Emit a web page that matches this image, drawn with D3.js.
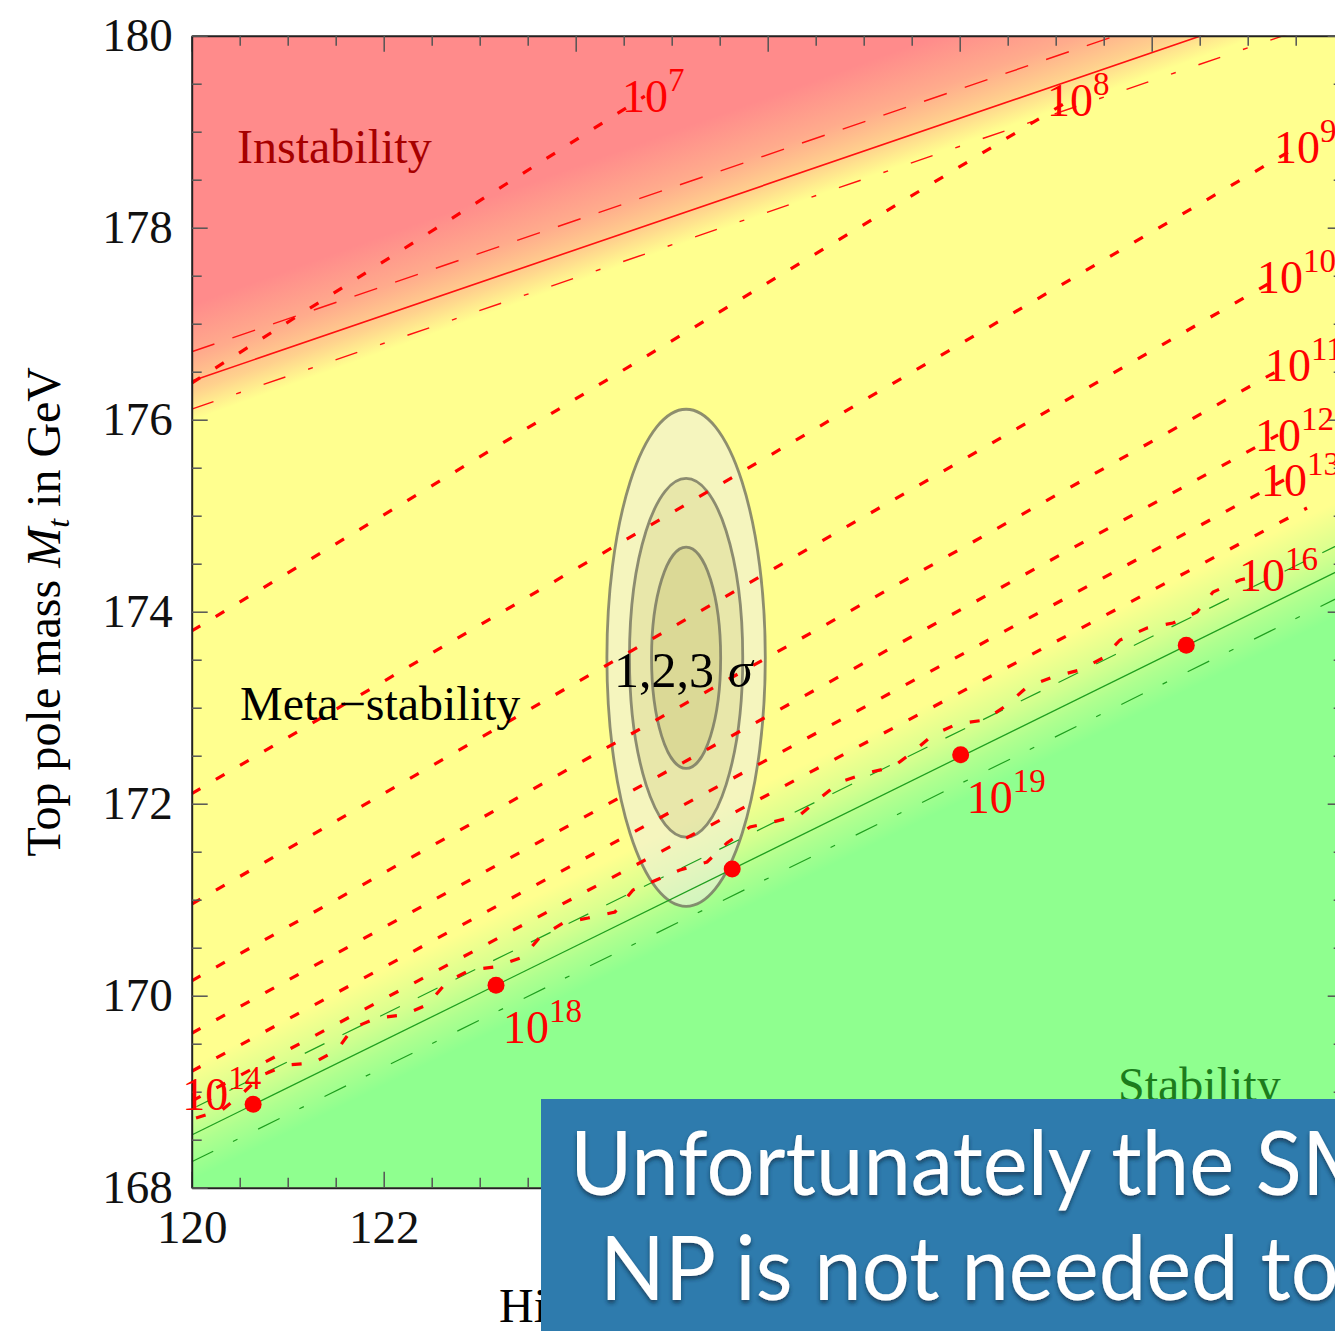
<!DOCTYPE html>
<html>
<head>
<meta charset="utf-8">
<script src="https://cdn.jsdelivr.net/npm/d3@7"></script>
<style>
  html, body { margin: 0; padding: 0; background: #fff; overflow: hidden; }
  svg { display: block; }
</style>
</head>
<body>
<svg id="chart" width="1335" height="1331"></svg>
<script>
// ---------------- data ----------------
const higgsRange = [120, 132];          // Higgs pole mass Mh (GeV)
const topRange = [168, 180];            // Top pole mass Mt (GeV)
const xMajorTicks = [120, 122, 124, 126, 128, 130, 132];
const yMajorTicks = [168, 170, 172, 174, 176, 178, 180];
const xTickLabels = [120, 122];         // the others sit under the caption panel

// instability boundary (alpha_s central, upper, lower), [Mh, Mt]
const instabilityCentral = [[120, 176.403], [132, 180.507]];
const instabilityUpper   = [[120, 176.708], [132, 180.812]];
const instabilityLower   = [[120, 176.111], [132, 180.215]];
// stability boundary
const stabilityCentral = [[120, 168.549], [132, 174.453]];
const stabilityUpper   = [[120, 168.820], [132, 174.724]];
const stabilityLower   = [[120, 168.270], [132, 174.174]];

// edges of the theory-error shading bands
const instabilityBandTop    = [[120, 177.200], [132, 181.520]];
const instabilityBandBottom = [[120, 175.990], [132, 180.310]];
const stabilityBandTop      = [[120, 169.278], [132, 175.182]];
const stabilityBandBottom   = [[120, 168.080], [132, 173.984]];

// instability scale contours Lambda = 10^n GeV
const contourExponents = [7, 8, 9, 10, 11, 12, 13, 14, 16];
const contour7  = [[120, 176.382], [124.72, 179.37]];
const contour8  = [[120, 173.799], [129.149, 179.330]];
const contour9  = [[120, 172.105], [131.514, 178.841]];
const contour10 = [[120, 170.953], [131.336, 177.486]];
const contour11 = [[120, 170.155], [131.420, 176.570]];
const contour12 = [[120, 169.609], [131.316, 175.841]];
const contour13 = [[120, 169.213], [131.378, 175.372]];
const contour14 = [[120, 168.902], [131.618, 175.080]];
const contour16 = [
  [120.045, 168.726], [120.316, 168.809], [120.534, 168.986], [120.732, 169.174],
  [120.993, 169.278], [121.264, 169.299], [121.514, 169.434], [121.680, 169.664],
  [121.930, 169.768], [122.201, 169.799], [122.451, 169.903], [122.659, 170.143],
  [122.899, 170.268], [123.159, 170.299], [123.451, 170.403], [123.628, 170.611],
  [123.868, 170.757], [124.128, 170.809], [124.409, 170.872], [124.597, 171.101],
  [125.086, 171.309], [125.368, 171.393], [125.576, 171.591], [125.816, 171.757],
  [126.055, 171.809], [126.336, 171.882], [126.545, 172.059], [126.753, 172.226],
  [127.034, 172.320], [127.305, 172.382], [127.513, 172.539], [127.722, 172.716],
  [127.972, 172.830], [128.264, 172.872], [128.493, 173.028], [128.701, 173.216],
  [128.972, 173.320], [129.253, 173.393], [129.493, 173.518], [129.670, 173.705],
  [129.951, 173.830], [130.222, 173.882], [130.472, 173.997], [130.639, 174.205],
  [130.920, 174.330], [131.149, 174.382]
];
const contours = [contour7, contour8, contour9, contour10, contour11, contour12, contour13, contour14, contour16];
// where each contour carries its 10^n tag (centre of the "10")
const contourLabelAt = [
  [124.722, 179.372], [129.149, 179.330], [131.514, 178.841], [131.336, 177.486],
  [131.420, 176.570], [131.316, 175.841], [131.378, 175.372], null, [131.149, 174.382]
];

// points on the stability line with the scale where it is reached
const stabilityPoints = [[120.64, 168.87], [123.17, 170.11], [125.63, 171.32], [128.01, 172.51], [130.36, 173.65]];
const stabilityPointExponents = [14, 18, null, 19, null];

// experimental 1,2,3 sigma region
const measuredMh = 125.15;
const measuredMt = 173.52;
const sigmaMhAxes = [0.36, 0.59, 0.825];
const sigmaMtAxes = [1.153, 1.868, 2.589];

// ---------------- layout ----------------
const svg = d3.select('#chart');
const plotLeft = 191.7, plotTop = 35.7, plotSize = 1152;
const x = d3.scaleLinear().domain(higgsRange).range([plotLeft, plotLeft + plotSize]);
const y = d3.scaleLinear().domain(topRange).range([plotTop + plotSize, plotTop]);
const serif = "'Liberation Serif', 'Times New Roman', serif";

const defs = svg.append('defs');
defs.append('clipPath').attr('id', 'plotClip').append('rect')
  .attr('x', x(120)).attr('y', y(180))
  .attr('width', x(132) - x(120)).attr('height', y(168) - y(180));

// gradient running across a band bounded by two parallel lines
function bandGradient(id, upper, lower, color, opacityStops) {
  const p0 = [x(upper[0][0]), y(upper[0][1])];
  const p1 = [x(upper[1][0]), y(upper[1][1])];
  const dx = p1[0] - p0[0], dy = p1[1] - p0[1];
  const len = Math.hypot(dx, dy);
  let nx = -dy / len, ny = dx / len;
  if (ny < 0) { nx = -nx; ny = -ny; }
  const q = [x(lower[0][0]), y(lower[0][1])];
  const dist = (q[0] - p0[0]) * nx + (q[1] - p0[1]) * ny;
  const g = defs.append('linearGradient').attr('id', id)
    .attr('gradientUnits', 'userSpaceOnUse')
    .attr('x1', p0[0]).attr('y1', p0[1])
    .attr('x2', p0[0] + nx * dist).attr('y2', p0[1] + ny * dist);
  opacityStops.forEach(([o, a]) =>
    g.append('stop').attr('offset', o).attr('stop-color', color).attr('stop-opacity', a));
}
const colRed = '#ff8b8b', colYellow = '#ffff8f', colGreen = '#8fff8f';
bandGradient('redBand', instabilityBandTop, instabilityBandBottom, colRed,
  [[0, 1], [0.45, 0.72], [0.75, 0.4], [1, 0]]);
bandGradient('greenBand', stabilityBandTop, stabilityBandBottom, colGreen,
  [[0, 0], [0.4, 0.35], [0.7, 0.72], [1, 1]]);

const shadow = defs.append('filter').attr('id', 'textShadow')
  .attr('x', '-5%').attr('y', '-20%').attr('width', '110%').attr('height', '150%');
shadow.append('feDropShadow').attr('dx', 0).attr('dy', 3).attr('stdDeviation', 2)
  .attr('flood-color', '#0b2940').attr('flood-opacity', 0.7);

// ---------------- phase regions ----------------
const plot = svg.append('g').attr('clip-path', 'url(#plotClip)');
const rectAttrs = s => s.attr('x', x(120)).attr('y', y(180))
  .attr('width', x(132) - x(120)).attr('height', y(168) - y(180));
plot.append('rect').call(rectAttrs).attr('fill', colYellow);
plot.append('rect').call(rectAttrs).attr('fill', 'url(#redBand)');
plot.append('rect').call(rectAttrs).attr('fill', 'url(#greenBand)');

// ---------------- sigma ellipses ----------------
const ellipseFills = ['rgba(238,238,222,0.6)', 'rgba(180,175,90,0.2)', 'rgba(180,175,90,0.25)'];
const sigmaOrder = [2, 1, 0];
plot.selectAll('ellipse.sig').data(sigmaOrder).enter().append('ellipse')
  .attr('class', 'sig')
  .attr('cx', x(measuredMh)).attr('cy', y(measuredMt))
  .attr('rx', i => x(measuredMh + sigmaMhAxes[i]) - x(measuredMh))
  .attr('ry', i => y(measuredMt) - y(measuredMt + sigmaMtAxes[i]))
  .attr('fill', (i, k) => ellipseFills[k])
  .attr('stroke', 'rgba(115,115,95,0.8)').attr('stroke-width', 2.8);

// ---------------- boundary lines ----------------
const line = d3.line().x(d => x(d[0])).y(d => y(d[1]));
const boundaries = [
  { pts: instabilityCentral, color: '#ff1010', w: 1.6, dash: null },
  { pts: instabilityUpper, color: '#ff1010', w: 1.4, dash: '24,19' },
  { pts: instabilityLower, color: '#ff1010', w: 1.4, dash: '23,24,5,24' },
  { pts: stabilityCentral, color: '#1f9f1f', w: 1.3, dash: null },
  { pts: stabilityUpper, color: '#1f9f1f', w: 1.2, dash: '22,20' },
  { pts: stabilityLower, color: '#1f9f1f', w: 1.2, dash: '24,22,5,23' }
];
plot.selectAll('path.bound').data(boundaries).enter().append('path')
  .attr('class', 'bound')
  .attr('d', d => line(d.pts))
  .attr('fill', 'none').attr('stroke', d => d.color).attr('stroke-width', d => d.w)
  .attr('stroke-dasharray', d => d.dash);

// ---------------- instability-scale contours ----------------
plot.selectAll('path.contour').data(contours).enter().append('path')
  .attr('class', 'contour')
  .attr('d', d => line(d))
  .attr('fill', 'none').attr('stroke', '#ff0000').attr('stroke-width', 3.2)
  .attr('stroke-dasharray', '10,18');

// ---------------- stability points ----------------
svg.append('g').selectAll('circle').data(stabilityPoints).enter().append('circle')
  .attr('cx', d => x(d[0])).attr('cy', d => y(d[1])).attr('r', 8.5).attr('fill', '#ff0000');

// ---------------- frame & ticks ----------------
const minorX = d3.range(120, 132.001, 0.5).filter(v => v % 2 !== 0);
const minorY = d3.range(168, 180.001, 0.5).filter(v => v % 2 !== 0);
const axisG = svg.append('g');
function styleAxis(g) {
  g.select('.domain').attr('stroke', '#222').attr('stroke-width', 2);
  g.selectAll('.tick line').attr('stroke', '#555').attr('stroke-width', 1.5);
  g.selectAll('.tick text').attr('font-family', serif).attr('font-size', 47).attr('fill', '#111');
}
const bottomY = y(168), topY = y(180), leftX = x(120), rightX = x(132);
axisG.append('g').attr('transform', `translate(0,${bottomY})`)
  .call(d3.axisBottom(x).tickValues(xMajorTicks)
    .tickFormat(v => xTickLabels.includes(v) ? d3.format('d')(v) : '')
    .tickSizeInner(-16).tickSizeOuter(0).tickPadding(22)).call(styleAxis);
axisG.append('g').attr('transform', `translate(0,${bottomY})`)
  .call(d3.axisBottom(x).tickValues(minorX).tickFormat('').tickSizeInner(-10).tickSizeOuter(0))
  .call(styleAxis).select('.domain').remove();
axisG.append('g').attr('transform', `translate(0,${topY})`)
  .call(d3.axisTop(x).tickValues(xMajorTicks).tickFormat('').tickSizeInner(-16).tickSizeOuter(0)).call(styleAxis);
axisG.append('g').attr('transform', `translate(0,${topY})`)
  .call(d3.axisTop(x).tickValues(minorX).tickFormat('').tickSizeInner(-10).tickSizeOuter(0))
  .call(styleAxis).select('.domain').remove();
axisG.append('g').attr('transform', `translate(${leftX},0)`)
  .call(d3.axisLeft(y).tickValues(yMajorTicks).tickFormat(d3.format('d'))
    .tickSizeInner(-16).tickSizeOuter(0).tickPadding(19)).call(styleAxis);
axisG.append('g').attr('transform', `translate(${leftX},0)`)
  .call(d3.axisLeft(y).tickValues(minorY).tickFormat('').tickSizeInner(-10).tickSizeOuter(0))
  .call(styleAxis).select('.domain').remove();
axisG.append('g').attr('transform', `translate(${rightX},0)`)
  .call(d3.axisRight(y).tickValues(yMajorTicks).tickFormat('').tickSizeInner(-16).tickSizeOuter(0)).call(styleAxis);
axisG.append('g').attr('transform', `translate(${rightX},0)`)
  .call(d3.axisRight(y).tickValues(minorY).tickFormat('').tickSizeInner(-10).tickSizeOuter(0))
  .call(styleAxis).select('.domain').remove();

// ---------------- power-of-ten tags ----------------
const tags = svg.append('g').attr('font-family', serif).attr('fill', '#ff0000');
function powerTag(px, py, exp, size, supSize) {
  const t = tags.append('text').attr('x', px).attr('y', py).attr('font-size', size);
  t.append('tspan').text('10');
  t.append('tspan').attr('font-size', supSize).attr('dy', -0.45 * size).text(exp);
}
contours.forEach((c, i) => {
  const at = contourLabelAt[i];
  if (!at) return;
  powerTag(x(at[0]) - 23, y(at[1]) + 16, contourExponents[i], 46, 33);
});
// tags beside the stability points (offsets in px from each point)
const pointTagOffset = { 14: [-71, 6], 18: [7, 58], 19: [6, 58] };
stabilityPoints.forEach((p, i) => {
  const e = stabilityPointExponents[i];
  if (e === null) return;
  const o = pointTagOffset[e];
  powerTag(x(p[0]) + o[0], y(p[1]) + o[1], e, 46, 33);
});

// ---------------- region names ----------------
const notes = svg.append('g').attr('font-family', serif).attr('font-size', 48);
notes.append('text').attr('x', 237).attr('y', 163).attr('fill', '#a60000').text('Instability');
notes.append('text').attr('x', 240).attr('y', 720).attr('fill', '#000').text('Meta\u2212stability');
notes.append('text').attr('x', 1118).attr('y', 1101).attr('fill', '#1c7c1c').text('Stability');
const sigmaText = notes.append('text').attr('x', 614).attr('y', 687).attr('fill', '#000')
  .attr('font-size', 50);
sigmaText.append('tspan').text('1,2,3');
sigmaText.append('tspan').attr('dx', 14).attr('font-style', 'italic').text('\u03c3');

// ---------------- axis titles ----------------
const yTitle = svg.append('text').attr('font-family', serif).attr('font-size', 48).attr('fill', '#000')
  .attr('text-anchor', 'middle')
  .attr('transform', `translate(60,${(y(168) + y(180)) / 2}) rotate(-90)`);
yTitle.append('tspan').text('Top pole mass ');
yTitle.append('tspan').attr('font-style', 'italic').text('M');
yTitle.append('tspan').attr('font-style', 'italic').attr('font-size', 32).attr('dy', 9).text('t');
yTitle.append('tspan').attr('dy', -9).text(' in GeV');

const xTitle = svg.append('text').attr('font-family', serif).attr('font-size', 48).attr('fill', '#000')
  .attr('text-anchor', 'middle')
  .attr('x', (x(120) + x(132)) / 2).attr('y', 1322);
xTitle.append('tspan').text('Higgs pole mass ');
xTitle.append('tspan').attr('font-style', 'italic').text('M');
xTitle.append('tspan').attr('font-style', 'italic').attr('font-size', 32).attr('dy', 9).text('h');
xTitle.append('tspan').attr('dy', -9).text(' in GeV');

// ---------------- caption panel ----------------
const panel = svg.append('g');
panel.append('rect').attr('x', 541).attr('y', 1099).attr('width', 900).attr('height', 300)
  .attr('fill', '#2e7bad');
const capFont = "Lato, 'Open Sans', sans-serif";
const cap1 = panel.append('text').attr('font-family', capFont).attr('font-size', 90)
  .attr('fill', '#fff').attr('filter', 'url(#textShadow)').text('Unfortunately the SM');
const cap2 = panel.append('text').attr('font-family', capFont).attr('font-size', 90)
  .attr('fill', '#fff').attr('filter', 'url(#textShadow)').text('NP is not needed to');
const partLen = cap1.node().getSubStringLength(0, 19);
const sx = 732 / partLen;
cap1.attr('transform', `translate(570,1195) scale(${sx},1)`);
cap2.attr('transform', `translate(600,1300) scale(${sx},1)`);
</script>
</body>
</html>
